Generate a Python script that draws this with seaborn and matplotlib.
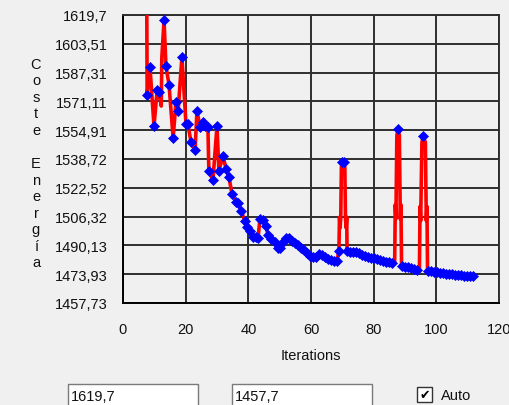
import numpy as np
import pandas as pd
import matplotlib
matplotlib.use("Agg")
import matplotlib.pyplot as plt
import seaborn as sns
from matplotlib.patches import Rectangle

# ---- data ----
iter_x = [7.7, 8.6, 9.9, 10.9, 11.5, 13.1, 13.7, 14.7, 16.0, 16.9,
          17.6, 18.8, 20.1, 20.7, 21.7, 23.0, 23.6, 24.6, 25.5, 26.2,
          27.1, 27.4, 28.7, 30.0, 30.6, 31.9, 32.9, 33.8, 34.8, 36.1,
          36.7, 37.7, 38.9, 39.6, 40.5, 41.5, 42.5, 43.1, 43.7, 44.7,
          45.6, 46.3, 47.2, 48.5, 49.5, 50.1, 51.1, 52.0, 53.0, 54.0,
          54.9, 55.9, 56.8, 57.8, 58.7, 59.7, 60.6, 61.6, 62.6, 63.5,
          64.5, 65.4, 66.4, 67.3, 68.3, 68.9, 69.9, 70.5, 71.5, 72.5,
          73.4, 74.4, 75.3, 76.3, 77.2, 78.2, 79.2, 80.1, 81.1, 82.0,
          83.0, 83.9, 84.9, 85.9, 87.8, 89.1, 90.0, 91.0, 91.9, 92.9,
          93.8, 95.8, 97.4, 98.3, 99.3, 100.2, 101.2, 102.1, 103.1, 104.1,
          105.0, 106.0, 106.9, 107.9, 108.8, 109.8, 110.8, 111.7]
energy = [1574.7, 1590.5, 1557.3, 1577.5, 1576.4, 1616.9, 1591.0, 1580.3, 1550.5, 1570.8,
          1565.7, 1596.1, 1558.4, 1558.4, 1548.3, 1543.8, 1565.7, 1556.7, 1559.5, 1557.3,
          1556.7, 1532.0, 1526.9, 1557.3, 1532.0, 1540.4, 1533.1, 1528.6, 1519.0, 1514.5,
          1514.0, 1509.5, 1503.8, 1500.5, 1498.2, 1494.8, 1494.8, 1494.3, 1505.0, 1504.4,
          1501.0, 1496.0, 1493.7, 1492.0, 1488.7, 1488.7, 1492.0, 1494.3, 1494.3, 1492.6,
          1491.5, 1490.3, 1488.7, 1487.5, 1485.9, 1484.2, 1483.6, 1483.6, 1485.3, 1484.7,
          1483.6, 1482.5, 1481.9, 1481.4, 1481.4, 1487.0, 1537.0, 1537.0, 1487.0, 1486.4,
          1486.4, 1486.4, 1485.9, 1484.7, 1484.2, 1483.6, 1483.0, 1483.0, 1482.5, 1481.9,
          1481.4, 1480.8, 1480.8, 1480.2, 1555.6, 1478.5, 1478.0, 1478.0, 1477.4, 1476.9,
          1476.3, 1551.7, 1475.7, 1475.7, 1475.2, 1475.2, 1474.6, 1474.6, 1474.0, 1474.0,
          1474.0, 1473.5, 1473.5, 1473.5, 1472.9, 1472.9, 1472.9, 1472.9]
# intermediate (unmarked) states drawn only by the red trace
extra_x = [7.6, 12.2, 12.4,
           69.1, 69.3, 69.5, 69.7, 70.8, 71.0, 71.2, 71.4,
           86.7, 86.9, 87.1, 87.4, 88.2, 88.5, 88.7, 88.9,
           94.6, 94.8, 95.0, 95.4, 96.5, 96.8, 97.0, 97.2]
extra_y = [1619.7, 1568.5, 1596.0,
           1506.0, 1500.0, 1506.0, 1534.0, 1534.0, 1506.0, 1500.0, 1506.0,
           1480.0, 1513.0, 1505.0, 1552.0, 1552.0, 1505.0, 1513.0, 1479.0,
           1476.0, 1512.0, 1504.0, 1548.0, 1548.0, 1504.0, 1512.0, 1476.0]

ytick_values = [1457.73, 1473.927, 1490.124, 1506.321, 1522.518, 1538.715,
                1554.912, 1571.109, 1587.306, 1603.503, 1619.7]
ytick_labels = ["1457,73", "1473,93", "1490,13", "1506,32", "1522,52", "1538,72",
                "1554,91", "1571,11", "1587,31", "1603,51", "1619,7"]
xtick_values = [0, 20, 40, 60, 80, 100, 120]
x_label = "Iterations"
y_label = "Coste Energía"
box_values = ["1619,7", "1457,7"]
check_label = "Auto"

# ---- style ----
sns.set_style("white")
plt.rcParams['font.family'] = ['Liberation Sans', 'DejaVu Sans']
BG = '#F0F0F0'
FS = 10.5

fig = plt.figure(figsize=(5.1, 4.06), dpi=100, facecolor=BG)
ax = fig.add_axes([123 / 510, 1 - 304 / 406, 376 / 510, 288 / 406])
ax.set_facecolor(BG)

line_df = pd.DataFrame({'x': iter_x + extra_x, 'y': energy + extra_y})
line_df = line_df.sort_values('x', kind='stable').reset_index(drop=True)
sns.lineplot(data=line_df, x='x', y='y', sort=False, estimator=None,
             color='#FF0000', linewidth=2.6, ax=ax, zorder=3)
sns.scatterplot(x=iter_x, y=energy, marker='D', s=26, color='#0000FF',
                edgecolor='#0000FF', linewidth=0.5, ax=ax, zorder=4)

ax.set_xlim(0, 120)
ax.set_ylim(ytick_values[0], ytick_values[-1])
ax.set_xticks(xtick_values)
ax.set_xticklabels([str(v) for v in xtick_values])
ax.set_yticks(ytick_values)
ax.set_yticklabels(ytick_labels)
ax.grid(True, color='#2e2e2e', linewidth=1.4)
ax.set_axisbelow(True)
for sp in ax.spines.values():
    sp.set_color('#2e2e2e')
    sp.set_linewidth(1.4)
ax.spines['left'].set_color('black')
ax.spines['bottom'].set_color('black')

ax.tick_params(axis='both', direction='inout', length=7, width=1, color='black',
               labelsize=FS, labelcolor='#111111')
ax.tick_params(axis='y', pad=7.3)
ax.tick_params(axis='x', pad=10)

ax.set_xlabel(x_label, fontsize=FS, color='#111111')
ax.set_ylabel('')
ax.xaxis.set_label_coords(0.5, (304 - 356) / 288)
ax.xaxis.label.set_va('center')

stacked = "\n".join(ch if ch != ' ' else '' for ch in y_label)
fig.text(36 / 510, 1 - 164 / 406, stacked, ha='center', va='center',
         fontsize=FS, color='#111111', linespacing=1.23, multialignment='center')

# ---- bottom controls ----
def textbox(x0, x1, label):
    r = Rectangle((x0 / 510, 1 - 410 / 406), (x1 - x0) / 510, 25 / 406,
                  transform=fig.transFigure, facecolor='white',
                  edgecolor='#7a7a7a', linewidth=1.0, clip_on=False)
    fig.patches.append(r)
    fig.text((x0 + 3) / 510, 1 - 397 / 406, label, ha='left', va='center',
             fontsize=FS, color='#111111')

textbox(68, 198, box_values[0])
textbox(232, 372, box_values[1])

cb = Rectangle((417 / 510, 1 - 403 / 406), 15 / 510, 15 / 406,
               transform=fig.transFigure, facecolor='white',
               edgecolor='#333333', linewidth=1.0)
fig.patches.append(cb)
fig.text(424.5 / 510, 1 - 395.5 / 406, "✔", ha='center', va='center',
         fontsize=9, family=['DejaVu Sans'], color='black')
fig.text(441 / 510, 1 - 396 / 406, check_label, ha='left', va='center',
         fontsize=FS, color='#111111')

fig.savefig("out.png", dpi=100, facecolor=BG)
